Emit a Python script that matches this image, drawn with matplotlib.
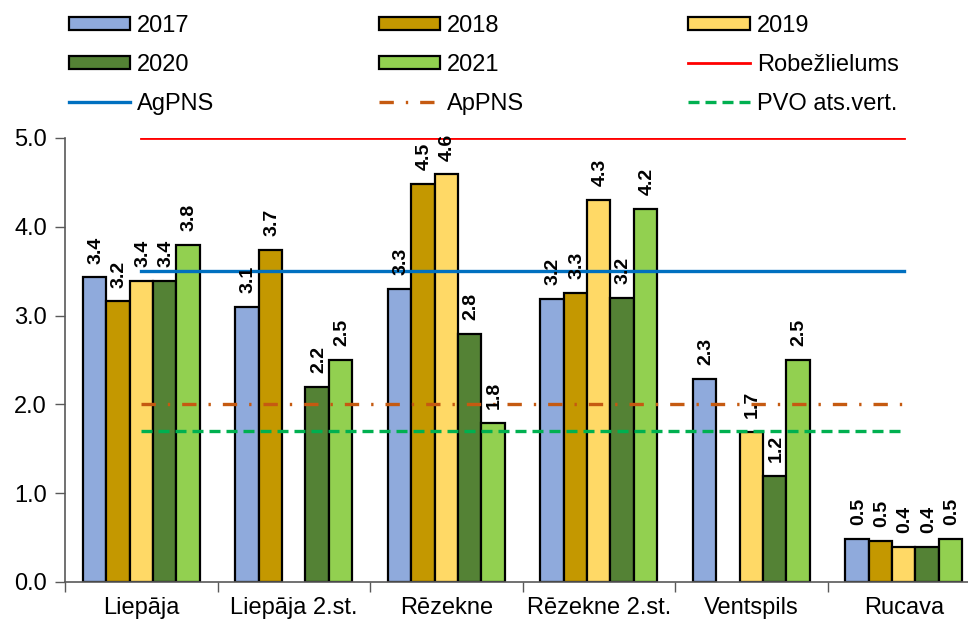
import matplotlib
matplotlib.use("Agg")
import matplotlib.pyplot as plt
import numpy as np

plt.rcParams['font.family'] = ['Liberation Sans', 'DejaVu Sans']

# data
stations = ["Liepāja", "Liepāja 2.st.", "Rēzekne", "Rēzekne 2.st.", "Ventspils", "Rucava"]
years = ["2017", "2018", "2019", "2020", "2021"]
v2017 = [3.43, 3.10, 3.30, 3.19, 2.29, 0.48]
v2018 = [3.16, 3.74, 4.48, 3.26, np.nan, 0.46]
v2019 = [3.39, np.nan, 4.59, 4.30, 1.69, 0.39]
v2020 = [3.39, 2.20, 2.79, 3.20, 1.19, 0.39]
v2021 = [3.80, 2.50, 1.79, 4.20, 2.50, 0.48]
series = [v2017, v2018, v2019, v2020, v2021]

robezlielums = 5.0
agpns = 3.5
appns = 2.0
pvo = 1.7

bar_colors = ["#8FAADC", "#C49800", "#FFD966", "#548235", "#92D050"]

fig = plt.figure(figsize=(9.68, 6.23), dpi=100)
ax = fig.add_axes([65 / 968, 41 / 623, 915 / 968, 444 / 623])

x = np.arange(len(stations))
w = 0.153
bar_handles = []
for j, (vals, col, yr) in enumerate(zip(series, bar_colors, years)):
    pos = x + (j - 2) * w
    bars = ax.bar(pos, vals, width=w, color=col, edgecolor="black", linewidth=1.6, label=yr)
    bar_handles.append(bars)
    for xp, v in zip(pos, vals):
        if np.isnan(v):
            continue
        ax.annotate(f"{v:.1f}", (xp, v), xytext=(1, 10), textcoords="offset points",
                    rotation=90, ha="center", va="bottom", fontsize=14, fontweight="bold")

n = len(stations)
l_rob, = ax.plot(x, [robezlielums] * n, color="#FF0000", lw=2.0, label="Robežlielums")
l_ag, = ax.plot(x, [agpns] * n, color="#0070C0", lw=2.4, label="AgPNS")
l_ap, = ax.plot(x, [appns] * n, color="#C55A11", lw=2.4, linestyle=(0, (4.3, 3.6, 0.7, 3.6)),
                label="ApPNS")
l_pvo, = ax.plot(x, [pvo] * n, color="#00B050", lw=2.4, linestyle=(0, (3.3, 1.8)),
                 label="PVO ats.vert.")

ax.set_xlim(-0.5, n - 0.5)
ax.set_ylim(0, 5.0)
ax.set_yticks(np.arange(0, 5.01, 1.0))
ax.set_yticklabels([f"{t:.1f}" for t in np.arange(0, 5.01, 1.0)], fontsize=17)
ax.set_xticks(np.arange(-0.5, n, 1.0))
ax.set_xticklabels([])
ax.set_xticks(x, minor=True)
ax.set_xticklabels(stations, minor=True, fontsize=17)
ax.tick_params(axis="x", which="major", length=7, width=1, color="#595959", direction="out")
ax.tick_params(axis="x", which="minor", length=0, pad=11)
ax.tick_params(axis="y", length=7, width=1, color="#595959", pad=6)
for s in ["top", "right"]:
    ax.spines[s].set_visible(False)
for s in ["left", "bottom"]:
    ax.spines[s].set_color("#595959")
    ax.spines[s].set_linewidth(1.2)

# legend in Excel order, filled column-wise
handles = [bar_handles[0], bar_handles[3], l_ag,
           bar_handles[1], bar_handles[4], l_ap,
           bar_handles[2], l_rob, l_pvo]
labels = [h.get_label() for h in handles]
fig.legend(handles, labels, ncol=3, loc="upper left", bbox_to_anchor=(57 / 968, 1 - 3 / 623),
           frameon=False, fontsize=17, handlelength=2.6, handleheight=0.5,
           handletextpad=0.3, columnspacing=6.95, labelspacing=0.72, borderpad=0)

fig.savefig("out.png", dpi=100)
